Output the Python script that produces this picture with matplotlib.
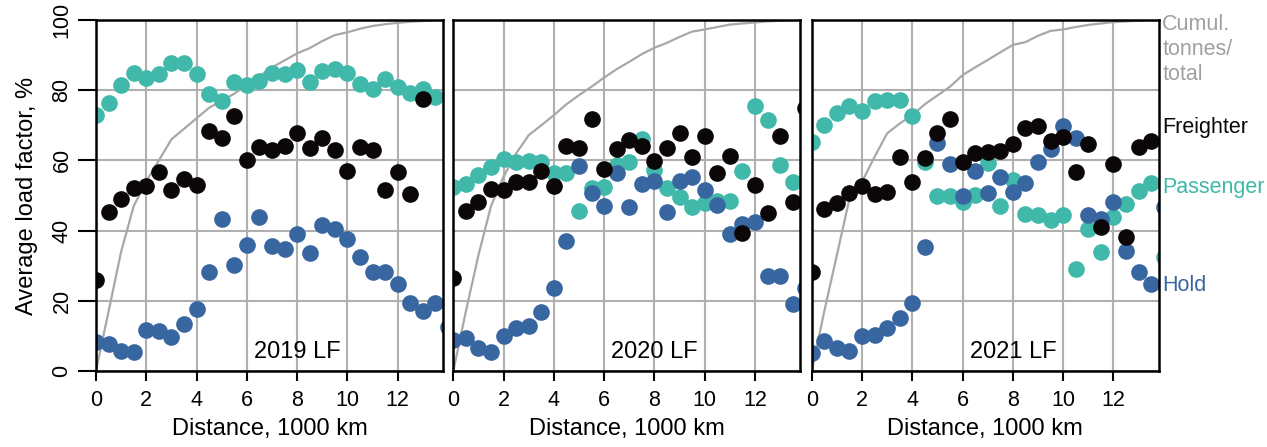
import numpy as np
import matplotlib
matplotlib.use('Agg')
import matplotlib.pyplot as plt
import matplotlib.transforms as mtransforms

plt.rcParams['font.family'] = ['Liberation Sans', 'DejaVu Sans']

# distance bins, 1000 km
dist = np.arange(0, 14.01, 0.5)
nan = np.nan

years = ['2019', '2020', '2021']

passenger = {
    '2019': [72.9, 76.4, 81.4, 85.0, 83.5, 84.7, 87.8, 87.8, 84.7, 78.8, 76.9, 82.3, 81.6, 82.6,
             85.0, 84.5, 85.7, 82.3, 85.5, 86.0, 85.0, 81.7, 80.3, 83.1, 80.9, 79.3, 80.3, 78.1, nan],
    '2020': [52.5, 53.2, 55.8, 58.2, 60.4, 59.6, 59.9, 59.5, 56.3, 56.3, 45.7, 52.2, 52.5, 58.7,
             59.6, 66.0, 57.3, 52.2, 49.5, 46.8, 47.8, 48.5, 48.5, 57.1, 75.5, 71.5, 58.7, 53.9, nan],
    '2021': [65.3, 70.1, 73.6, 75.5, 74.1, 76.9, 77.2, 77.2, 72.7, 59.6, 49.9, 49.9, 48.2, 50.1,
             59.3, 47.0, 54.4, 44.7, 44.4, 43.0, 44.4, 29.0, 40.4, 34.0, 43.8, 47.5, 51.4, 53.6, 32.4],
}
freighter = {
    '2019': [25.9, 45.2, 49.0, 52.0, 52.8, 56.8, 51.6, 54.7, 52.9, 68.4, 66.5, 72.6, 60.0, 63.9,
             62.9, 64.1, 67.7, 63.6, 66.5, 63.0, 57.1, 63.9, 62.9, 51.6, 56.8, 50.4, 77.4, nan, nan],
    '2020': [26.4, 45.7, 48.2, 51.8, 51.6, 53.9, 53.9, 57.0, 52.8, 64.1, 63.6, 71.7, 57.5, 63.2,
             65.8, 64.1, 59.8, 63.6, 67.9, 61.1, 67.0, 56.3, 61.3, 39.4, 53.0, 45.1, 67.0, 48.2, 74.8],
    '2021': [28.3, 46.1, 48.0, 50.8, 52.7, 50.4, 51.1, 61.1, 53.8, 60.8, 67.9, 71.7, 59.6, 62.2,
             62.5, 62.8, 64.7, 69.3, 69.8, 65.5, 66.8, 56.8, 64.7, 41.1, 59.1, 38.1, 63.9, 65.6, nan],
}
hold = {
    '2019': [8.4, 7.7, 5.8, 5.5, 11.7, 11.5, 9.8, 13.3, 17.6, 28.1, 43.4, 30.3, 35.8, 43.8,
             35.5, 34.7, 38.9, 33.7, 41.5, 40.5, 37.5, 32.5, 28.1, 28.1, 24.8, 19.5, 17.1, 19.3, 12.6],
    '2020': [8.8, 9.3, 6.5, 5.5, 10.1, 12.3, 12.9, 16.9, 23.7, 37.1, 58.5, 50.8, 47.0, 56.5,
             46.6, 53.2, 54.0, 45.4, 54.1, 55.4, 51.5, 47.3, 38.9, 41.9, 42.5, 27.1, 27.1, 19.1, 23.6],
    '2021': [5.0, 8.6, 6.6, 5.8, 10.0, 10.3, 12.2, 15.0, 19.5, 35.4, 64.9, 58.9, 49.9, 57.1,
             50.6, 55.4, 51.0, 53.6, 59.6, 63.2, 69.9, 66.3, 44.4, 43.2, 48.2, 34.3, 28.3, 24.8, 46.8],
}
cumul = {
    '2019': [0, 17, 34, 47, 54, 60, 66, 69, 72, 75, 77, 79, 81.5, 84, 86.5, 88.5, 90.5, 92, 94,
             95.7, 96.5, 97.5, 98.3, 98.8, 99.2, 99.5, 99.7, 100, 100],
    '2020': [0, 17, 33, 47, 55.4, 62, 67.2, 70, 72.9, 76, 78.6, 81, 83.6, 86, 88.1, 90.3, 92.1,
             93.5, 95.2, 96.7, 97.3, 98, 98.7, 99, 99.3, 99.6, 99.8, 100, 100],
    '2021': [0, 17, 33, 49, 53.9, 61, 67.7, 70.5, 72.9, 76, 78.5, 81, 84.3, 86.5, 88.6, 90.8,
             92.9, 93.7, 95.5, 96.9, 97.3, 98, 98.6, 99, 99.4, 99.6, 99.8, 100, 100],
}

c_pax = '#40b8aa'
c_hold = '#3866a0'
c_frt = '#0b0708'
c_cum = '#a8a8a8'
fs = 15.5     # tick labels, series labels
fs_lab = 17   # axis titles, panel labels

fig = plt.figure(figsize=(12.67, 4.47), dpi=100)

W, H = 1267, 447
lefts = [96, 453.3, 811.7]
axw = 347
bottom, top = 371, 20

axes = []
for i, yr in enumerate(years):
    ax = fig.add_axes([lefts[i] / W, 1 - bottom / H, axw / W, (bottom - top) / H])
    ax.set_xlim(0, 13.8)
    ax.set_ylim(0, 100)
    ax.set_xticks([0, 2, 4, 6, 8, 10, 12])
    ax.set_yticks([0, 20, 40, 60, 80, 100])
    ax.grid(True, color='#b0b0b0', linewidth=1.5)
    ax.set_axisbelow(True)
    for s in ax.spines.values():
        s.set_linewidth(1.8)
        s.set_zorder(5)

    ax.plot(dist, cumul[yr], color=c_cum, linewidth=1.6, zorder=2)
    ax.plot(dist, passenger[yr], 'o', color=c_pax, markersize=12, markeredgewidth=0, zorder=3)
    ax.plot(dist, hold[yr], 'o', color=c_hold, markersize=12, markeredgewidth=0, zorder=3)
    ax.plot(dist, freighter[yr], 'o', color=c_frt, markersize=12, markeredgewidth=0, zorder=3)

    ax.tick_params(axis='x', direction='out', length=7, width=1.5, pad=7, labelsize=fs)
    if i == 0:
        ax.tick_params(axis='y', direction='out', length=13, width=1.5, pad=4,
                       labelsize=fs, labelrotation=90)
        for lbl in ax.get_yticklabels():
            lbl.set_va('center')
    else:
        ax.tick_params(axis='y', length=0, labelleft=False)

    ax.text(8, 5.5, yr + ' LF', fontsize=fs_lab, ha='center', va='center')
    ax.text(0.5, -0.165, 'Distance, 1000 km', transform=ax.transAxes,
            fontsize=fs_lab, ha='center', va='center')
    axes.append(ax)

fig.text(27 / W, 1 - 196 / H, 'Average load factor, %', rotation=90,
         fontsize=fs_lab, ha='center', va='center')

ax3 = axes[2]
tr = mtransforms.blended_transform_factory(ax3.transAxes, ax3.transData)
ax3.text(1.01, 91.5, 'Cumul.\ntonnes/\ntotal', transform=tr, color='#a0a0a0',
         fontsize=fs, ha='left', va='center', linespacing=1.25, clip_on=False)
ax3.text(1.01, 69.5, 'Freighter', transform=tr, color=c_frt,
         fontsize=fs, ha='left', va='center', clip_on=False)
ax3.text(1.01, 52.4, 'Passenger', transform=tr, color=c_pax,
         fontsize=fs, ha='left', va='center', clip_on=False)
ax3.text(1.01, 24.5, 'Hold', transform=tr, color=c_hold,
         fontsize=fs, ha='left', va='center', clip_on=False)

fig.savefig('out.png', dpi=100)
